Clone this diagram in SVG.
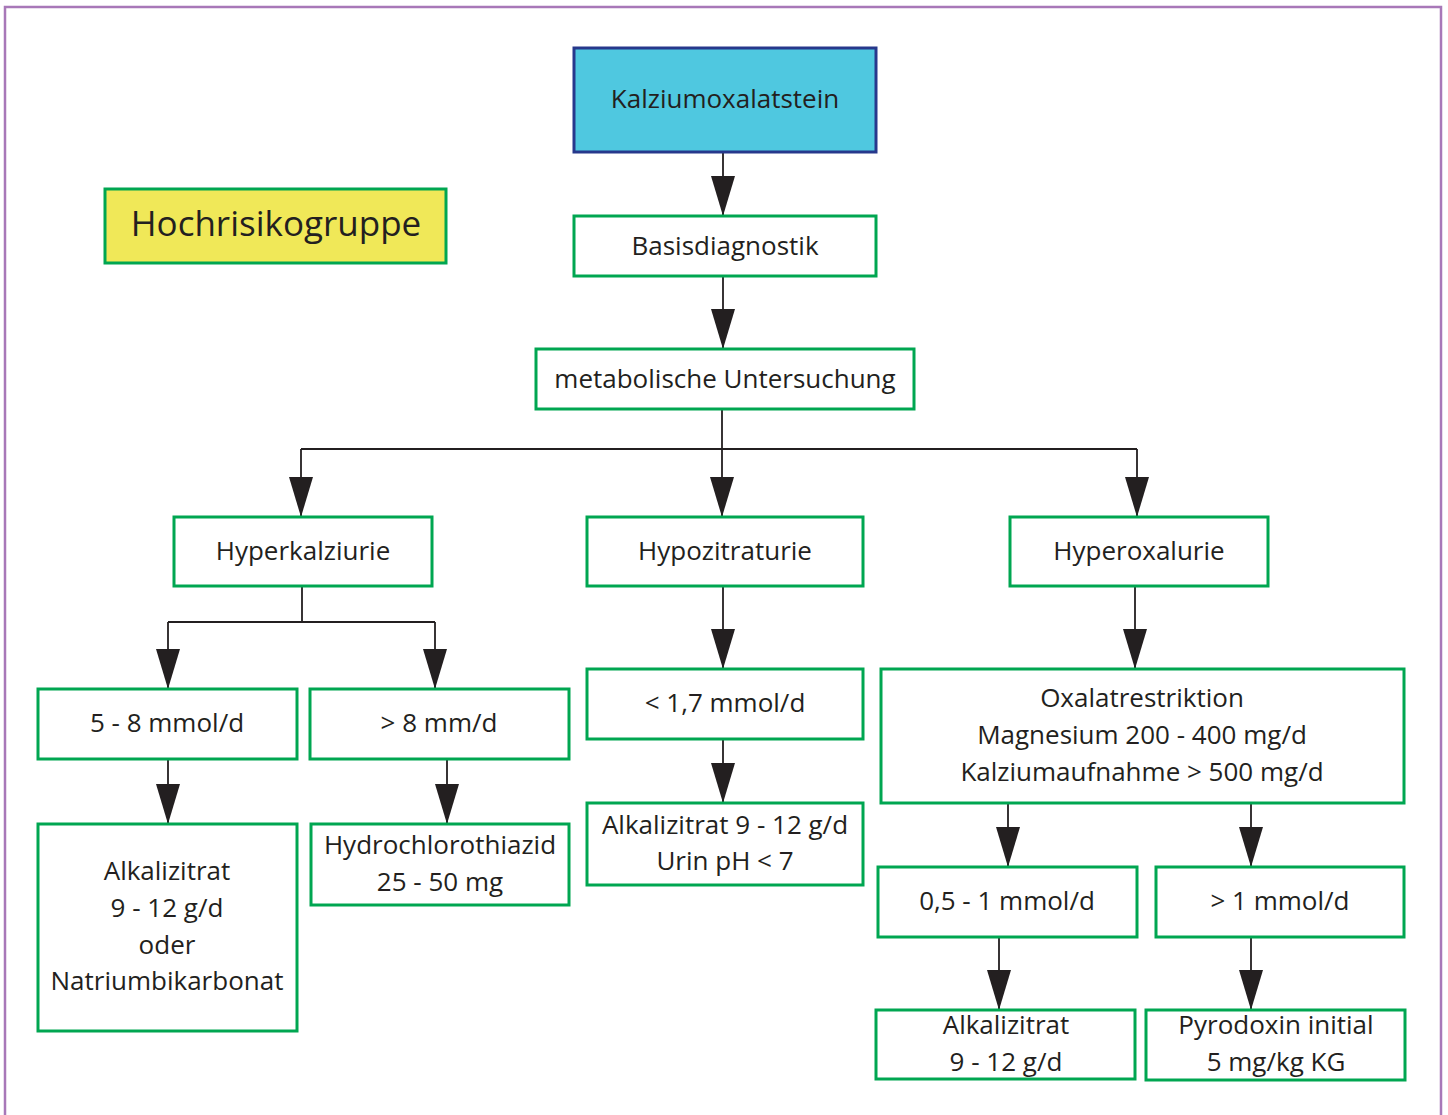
<svg xmlns="http://www.w3.org/2000/svg" width="1448" height="1115" viewBox="0 0 1448 1115">
<style>
.box{fill:#ffffff;stroke:#00a651;stroke-width:3}
.t{font-family:"Open Sans","Noto Sans","Liberation Sans",sans-serif;font-size:26px;fill:#231f20;text-anchor:middle}
.c{fill:none;stroke:#231f20;stroke-width:1.8}
.a{marker-end:url(#arr)}
</style>
<defs>
<marker id="arr" markerUnits="userSpaceOnUse" markerWidth="40" markerHeight="24" refX="40" refY="12" orient="auto">
<path d="M0,0 L40,12 L0,24 z" fill="#231f20"/>
</marker>
</defs>
<rect width="1448" height="1115" fill="#ffffff"/>
<path d="M5,1115 L5,7 L1441,7 L1441,1115" fill="none" stroke="#a878b8" stroke-width="2.5"/>

<g id="connectors">
<line class="c a" x1="723" y1="152" x2="723" y2="216"/>
<line class="c a" x1="723" y1="276" x2="723" y2="349"/>
<line class="c" x1="722" y1="409" x2="722" y2="449"/>
<line class="c" x1="301" y1="449" x2="1137" y2="449"/>
<line class="c a" x1="301" y1="449" x2="301" y2="517"/>
<line class="c a" x1="722" y1="449" x2="722" y2="517"/>
<line class="c a" x1="1137" y1="449" x2="1137" y2="517"/>
<line class="c" x1="302" y1="586" x2="302" y2="622"/>
<line class="c" x1="168" y1="622" x2="435" y2="622"/>
<line class="c a" x1="168" y1="622" x2="168" y2="689"/>
<line class="c a" x1="435" y1="622" x2="435" y2="689"/>
<line class="c a" x1="168" y1="759" x2="168" y2="824"/>
<line class="c a" x1="447" y1="759" x2="447" y2="824"/>
<line class="c a" x1="723" y1="586" x2="723" y2="669"/>
<line class="c a" x1="723" y1="739" x2="723" y2="803"/>
<line class="c a" x1="1135" y1="586" x2="1135" y2="669"/>
<line class="c a" x1="1008" y1="803" x2="1008" y2="867"/>
<line class="c a" x1="1251" y1="803" x2="1251" y2="867"/>
<line class="c a" x1="999" y1="937" x2="999" y2="1010"/>
<line class="c a" x1="1251" y1="937" x2="1251" y2="1010"/>
</g>

<g id="n-kalzium">
<rect x="574" y="48" width="302" height="104" fill="#4fc8e0" stroke="#27388c" stroke-width="3"/>
<text class="t" x="725" y="108">Kalziumoxalatstein</text>
</g>
<g id="n-hochrisiko">
<rect x="105" y="189" width="341" height="74" fill="#f0e858" stroke="#00a651" stroke-width="3"/>
<text class="t" x="276" y="236" style="font-size:35px">Hochrisikogruppe</text>
</g>
<g id="n-basis">
<rect class="box" x="574" y="216" width="302" height="60"/>
<text class="t" x="725" y="255">Basisdiagnostik</text>
</g>
<g id="n-metab">
<rect class="box" x="536" y="349" width="378" height="60"/>
<text class="t" x="725" y="388">metabolische Untersuchung</text>
</g>
<g id="n-hyperkalz">
<rect class="box" x="174" y="517" width="258" height="69"/>
<text class="t" x="303" y="560">Hyperkalziurie</text>
</g>
<g id="n-hypozit">
<rect class="box" x="587" y="517" width="276" height="69"/>
<text class="t" x="725" y="560">Hypozitraturie</text>
</g>
<g id="n-hyperox">
<rect class="box" x="1010" y="517" width="258" height="69"/>
<text class="t" x="1139" y="560">Hyperoxalurie</text>
</g>
<g id="n-58">
<rect class="box" x="38" y="689" width="259" height="70"/>
<text class="t" x="167" y="732">5 - 8 mmol/d</text>
</g>
<g id="n-gt8">
<rect class="box" x="310" y="689" width="259" height="70"/>
<text class="t" x="439" y="732">&gt; 8 mm/d</text>
</g>
<g id="n-lt17">
<rect class="box" x="587" y="669" width="276" height="70"/>
<text class="t" x="725" y="712">&lt; 1,7 mmol/d</text>
</g>
<g id="n-oxalat">
<rect class="box" x="881" y="669" width="523" height="134"/>
<text class="t" x="1142" y="707">Oxalatrestriktion</text>
<text class="t" x="1142" y="744">Magnesium 200 - 400 mg/d</text>
<text class="t" x="1142" y="781">Kalziumaufnahme &gt; 500 mg/d</text>
</g>
<g id="n-alk1">
<rect class="box" x="38" y="824" width="259" height="207"/>
<text class="t" x="167" y="880">Alkalizitrat</text>
<text class="t" x="167" y="917">9 - 12 g/d</text>
<text class="t" x="167" y="954">oder</text>
<text class="t" x="167" y="990">Natriumbikarbonat</text>
</g>
<g id="n-hct">
<rect class="box" x="311" y="824" width="258" height="81"/>
<text class="t" x="440" y="854">Hydrochlorothiazid</text>
<text class="t" x="440" y="891">25 - 50 mg</text>
</g>
<g id="n-alk2">
<rect class="box" x="587" y="803" width="276" height="82"/>
<text class="t" x="725" y="834">Alkalizitrat 9 - 12 g/d</text>
<text class="t" x="725" y="870">Urin pH &lt; 7</text>
</g>
<g id="n-051">
<rect class="box" x="878" y="867" width="259" height="70"/>
<text class="t" x="1007" y="910">0,5 - 1 mmol/d</text>
</g>
<g id="n-gt1">
<rect class="box" x="1156" y="867" width="248" height="70"/>
<text class="t" x="1280" y="910">&gt; 1 mmol/d</text>
</g>
<g id="n-alk3">
<rect class="box" x="876" y="1010" width="259" height="69"/>
<text class="t" x="1006" y="1034">Alkalizitrat</text>
<text class="t" x="1006" y="1071">9 - 12 g/d</text>
</g>
<g id="n-pyro">
<rect class="box" x="1146" y="1010" width="259" height="70"/>
<text class="t" x="1276" y="1034">Pyrodoxin initial</text>
<text class="t" x="1276" y="1071">5 mg/kg KG</text>
</g>
</svg>
